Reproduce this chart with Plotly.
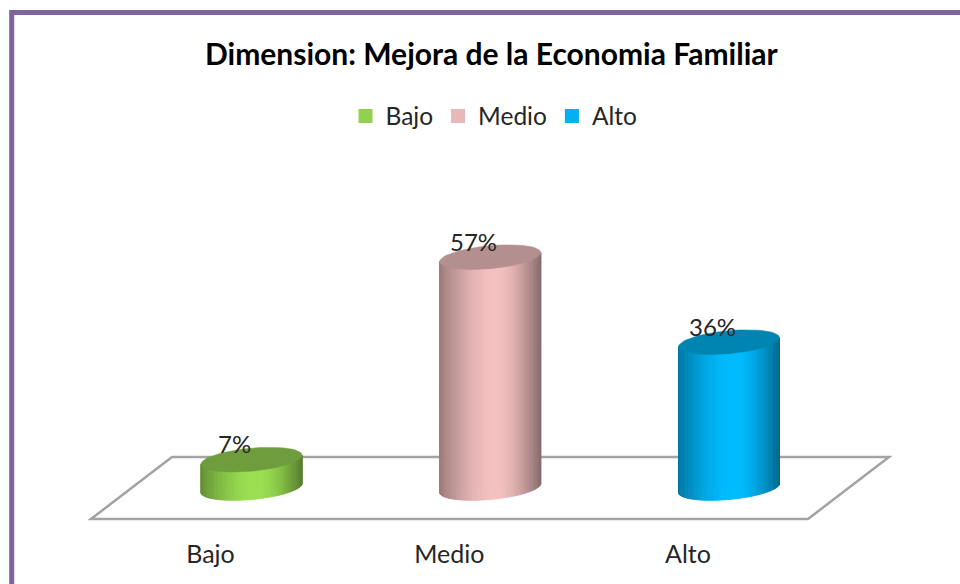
import math
import plotly.graph_objects as go

# ---- data ----
categories = ["Bajo", "Medio", "Alto"]
values = [7, 57, 36]
labels = ["7%", "57%", "36%"]
legend_colors = ["#92D050", "#E6B9B8", "#00B0F0"]
side_colors = ["#9BE052", "#F4C0C0", "#00BCFF"]
top_colors = ["#6F9C3C", "#B38F8F", "#0085B3"]
title_text = "Dimension: Mejora de la Economia Familiar"

W, H = 960, 584
PLOT_BOTTOM = 535
X0, DX = 251.5, 238.75       # px of first category, px per category
Y0, SY = 488.0, 4.05         # px of value 0, px per percent
HW = 50.5 / DX               # half width in category units
MINOR = 11.5 / SY            # ellipse semi-minor in percent units
SHEAR = 4.5 / SY             # tilt of ellipse in percent units
LABEL_SHIFT = -41            # tick label offset px


def xd(px):
    return (px - X0) / DX


def yd(px):
    return (Y0 - px) / SY


def shade(u):
    # u in 0..1 left to right: brightness factor of the cylinder wall
    peak = 0.55
    if u < peak:
        s = math.sin(u / peak * math.pi / 2)
        return 0.64 + 0.36 * s
    s = math.sin((1 - u) / (1 - peak) * math.pi / 2)
    return 0.56 + 0.44 * s


def scale(hexc, f):
    r, g, b = int(hexc[1:3], 16), int(hexc[3:5], 16), int(hexc[5:7], 16)
    return f"rgb({round(r*f)},{round(g*f)},{round(b*f)})"


fig = go.Figure()

# real bars (carry the legend), hidden behind the cylinder walls
for i, (c, v) in enumerate(zip(categories, values)):
    fig.add_trace(go.Bar(x=[i], y=[v], width=HW * 1.6, name=c,
                         marker=dict(color=legend_colors[i],
                                     line=dict(width=2, color=legend_colors[i])),
                         hoverinfo="skip"))

N = 60
for i, v in enumerate(values):
    for k in range(N):
        u0 = -math.cos(math.pi * k / N)
        u1 = -math.cos(math.pi * (k + 1) / N)
        low0 = SHEAR * u0 - MINOR * math.sqrt(max(0, 1 - u0 * u0))
        low1 = SHEAR * u1 - MINOR * math.sqrt(max(0, 1 - u1 * u1))
        col = scale(side_colors[i], shade(((u0 + u1) / 2 + 1) / 2))
        fig.add_trace(go.Scatter(
            x=[i + u0 * HW, i + u1 * HW, i + u1 * HW, i + u0 * HW, i + u0 * HW],
            y=[low0, low1, v + SHEAR * u1, v + SHEAR * u0, low0],
            mode="lines", fill="toself", fillcolor=col,
            line=dict(color=col, width=0.8), showlegend=False, hoverinfo="skip"))
    # top cap
    M = 72
    ts = [2 * math.pi * j / M for j in range(M + 1)]
    fig.add_trace(go.Scatter(
        x=[i + HW * math.cos(t) for t in ts],
        y=[v + SHEAR * math.cos(t) + MINOR * math.sin(t) for t in ts],
        mode="lines", fill="toself", fillcolor=top_colors[i],
        line=dict(color=top_colors[i], width=0.5), showlegend=False, hoverinfo="skip"))

annotations = [
    dict(x=i, y=v, text=labels[i], xref="x", yref="y", showarrow=False,
         xshift=-17, yshift=16, font=dict(family="Lato", size=24, color="#262626"))
    for i, v in enumerate(values)
]
annotations.append(dict(x=491 / W, y=1 - 53 / PLOT_BOTTOM, xref="paper", yref="paper",
                        xanchor="center", yanchor="middle",
                        text=f"<b>{title_text}</b>", showarrow=False,
                        font=dict(family="Lato", size=30, color="#000000")))

floor_px = [(172, 457), (889, 457), (808, 519), (91, 519)]
floor_path = "M " + " L ".join(f"{xd(a):.4f},{yd(b):.4f}" for a, b in floor_px) + " Z"


def pp(px, py):
    return f"{px / W:.5f},{1 - py / PLOT_BOTTOM:.5f}"


border_path = f"M {pp(11.7, 600)} L {pp(11.7, 12.5)} L {pp(980, 12.5)}"

fig.update_layout(
    width=W, height=H, autosize=False, showlegend=True,
    margin=dict(l=0, r=0, t=0, b=H - PLOT_BOTTOM, pad=0),
    paper_bgcolor="white", plot_bgcolor="white",
    barmode="overlay",
    font=dict(family="Lato", color="#262626", size=24),
    legend=dict(orientation="h", x=494 / W, xanchor="center",
                y=1 - 116 / PLOT_BOTTOM, yanchor="middle",
                font=dict(family="Lato", size=24.5), itemwidth=30,
                bgcolor="rgba(0,0,0,0)"),
    xaxis=dict(range=[xd(0), xd(W)], showgrid=False, zeroline=False, showline=False,
               tickmode="array",
               tickvals=[i + LABEL_SHIFT / DX for i in range(len(categories))],
               ticktext=categories, ticks="", ticklabelstandoff=2,
               tickfont=dict(family="Lato", size=25, color="#262626"), fixedrange=True),
    yaxis=dict(range=[yd(PLOT_BOTTOM), yd(0)], visible=False, fixedrange=True),
    shapes=[
        dict(type="path", path=floor_path, xref="x", yref="y", layer="below",
             line=dict(color="#A3A3A3", width=2.5), fillcolor="white"),
        dict(type="path", path=border_path, xref="paper", yref="paper", layer="above",
             line=dict(color="#8064A2", width=5)),
    ],
    annotations=annotations,
)

fig.write_html("out.html", config=dict(displayModeBar=False),
               post_script="document.body.style.margin='0';document.body.style.overflow='hidden';")
